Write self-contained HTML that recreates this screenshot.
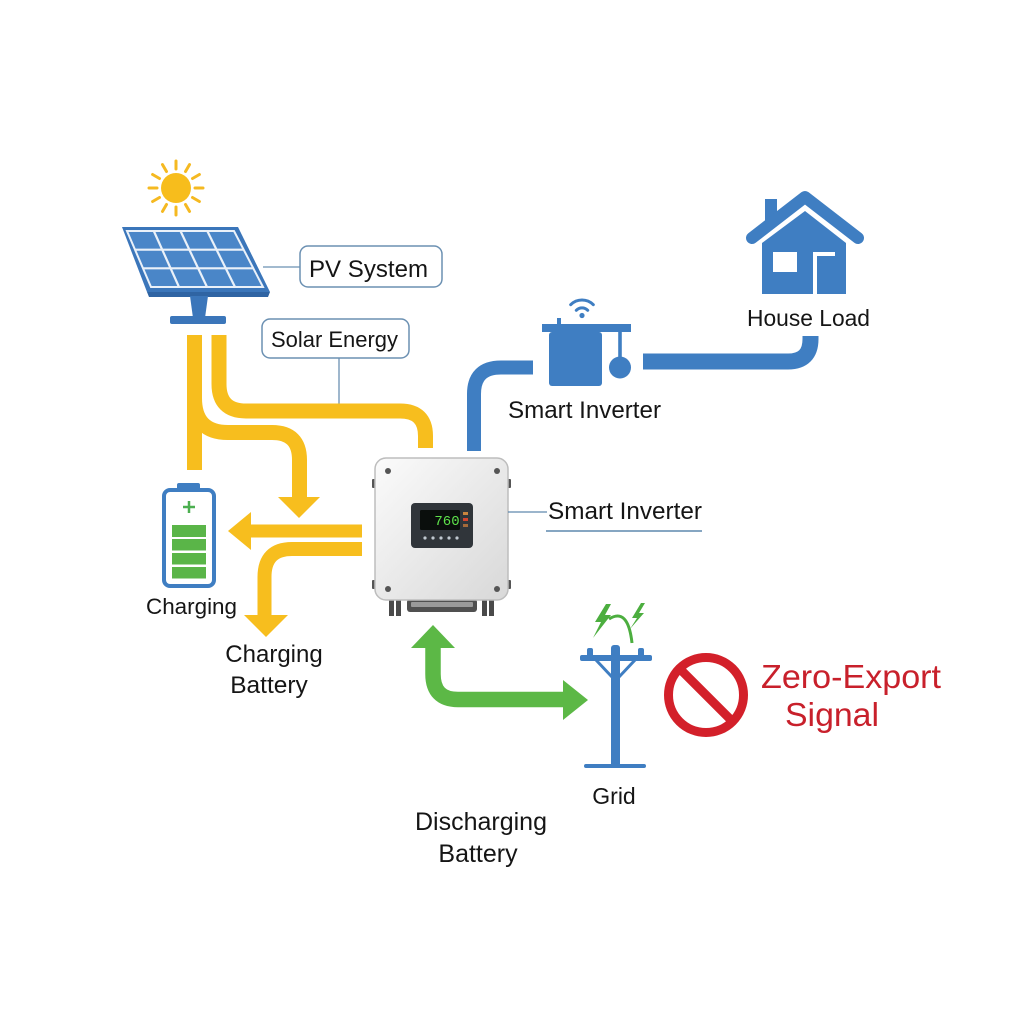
<!DOCTYPE html>
<html><head><meta charset="utf-8"><style>
html,body{margin:0;padding:0;background:#fff;}
svg{display:block;}
text{font-family:"Liberation Sans",Arial,sans-serif;fill:#151515;}
</style></head><body>
<svg width="1024" height="1024" viewBox="0 0 1024 1024" xmlns="http://www.w3.org/2000/svg">
<defs>
<linearGradient id="inv" x1="0" y1="0" x2="1" y2="1">
<stop offset="0" stop-color="#fbfbfb"/><stop offset="1" stop-color="#d8d8d8"/>
</linearGradient>
</defs>
<rect width="1024" height="1024" fill="#fff"/>

<!-- Sun -->
<g stroke="#f5b921" stroke-width="3" stroke-linecap="round">
<line x1="176" y1="169" x2="176" y2="161"/>
<line x1="185.5" y1="171.5" x2="189.5" y2="164.6"/>
<line x1="192.5" y1="178.5" x2="199.4" y2="174.5"/>
<line x1="195" y1="188" x2="203" y2="188"/>
<line x1="192.5" y1="197.5" x2="199.4" y2="201.5"/>
<line x1="185.5" y1="204.5" x2="189.5" y2="211.4"/>
<line x1="176" y1="207" x2="176" y2="215"/>
<line x1="166.5" y1="204.5" x2="162.5" y2="211.4"/>
<line x1="159.5" y1="197.5" x2="152.6" y2="201.5"/>
<line x1="157" y1="188" x2="149" y2="188"/>
<line x1="159.5" y1="178.5" x2="152.6" y2="174.5"/>
<line x1="166.5" y1="171.5" x2="162.5" y2="164.6"/>
</g>
<circle cx="176" cy="188" r="15" fill="#f7bd1c"/>

<!-- Solar panel -->
<polygon points="147,292 270,292 268,297 149,297" fill="#2f64a3"/>
<polygon points="122,227 238,227 270,292 147,292" fill="#3b76ba"/>
<polygon points="127,231 234,231 263,287 151,287" fill="#4a86c8" stroke="#eaf1f9" stroke-width="2"/>
<g stroke="#eaf1f9" stroke-width="2.2">
<line x1="153.8" y1="231" x2="179" y2="287"/>
<line x1="180.5" y1="231" x2="207" y2="287"/>
<line x1="207.3" y1="231" x2="235" y2="287"/>
<line x1="135" y1="249.7" x2="243.7" y2="249.7"/>
<line x1="143" y1="268.3" x2="253.3" y2="268.3"/>
</g>
<polygon points="190,296 208,296 205,318 193,318" fill="#3b76ba"/>
<rect x="170" y="316" width="56" height="8" rx="2" fill="#3b76ba"/>

<!-- Label boxes -->
<line x1="263" y1="267" x2="300" y2="267" stroke="#6b90b2" stroke-width="1.3"/>
<rect x="300" y="246" width="142" height="41" rx="8" fill="#fff" stroke="#6b90b2" stroke-width="1.5"/>
<text x="309" y="277" font-size="24" textLength="119" lengthAdjust="spacingAndGlyphs">PV System</text>
<line x1="339" y1="358" x2="339" y2="404" stroke="#6b90b2" stroke-width="1.3"/>
<rect x="262" y="319" width="147" height="39" rx="8" fill="#fff" stroke="#6b90b2" stroke-width="1.5"/>
<text x="271" y="347" font-size="22" textLength="127" lengthAdjust="spacingAndGlyphs">Solar Energy</text>

<!-- Yellow pipes -->
<g fill="none" stroke="#f7be1e" stroke-linejoin="round">
<path d="M194.5 335 V470" stroke-width="15"/>
<path d="M194.5 398 Q194.5 432.5 228 432.5 H272 Q299.5 432.5 299.5 460 V498" stroke-width="15"/>
<path d="M219 335 V384 Q219 411 246 411 H400 Q425.5 411 425.5 436 V448" stroke-width="15"/>
<path d="M362 531 H249" stroke-width="13"/>
<path d="M362 549 H292 Q264.5 549 264.5 577 V616" stroke-width="14"/>
</g>
<g fill="#f7be1e">
<polygon points="278,497 320,497 299,518"/>
<polygon points="251,512 251,550 228,531"/>
<polygon points="244,615 288,615 266,637"/>
</g>

<!-- Battery -->
<rect x="177" y="483" width="23" height="8" rx="2" fill="#3f7ec2"/>
<rect x="164" y="490" width="50" height="96" rx="6" fill="#fff" stroke="#3f7ec2" stroke-width="4"/>
<g stroke="#4caf50" stroke-width="2.5">
<line x1="183" y1="507" x2="195" y2="507"/>
<line x1="189" y1="501" x2="189" y2="513"/>
</g>
<g fill="#5ab548">
<rect x="172" y="525" width="34" height="12"/>
<rect x="172" y="539" width="34" height="11.5"/>
<rect x="172" y="553" width="34" height="11.5"/>
<rect x="172" y="567" width="34" height="11.5"/>
</g>
<text x="146" y="614" font-size="22.5" textLength="91" lengthAdjust="spacingAndGlyphs">Charging</text>
<text x="274" y="662" font-size="24" text-anchor="middle">Charging</text>
<text x="269" y="693" font-size="24.5" text-anchor="middle">Battery</text>

<!-- Blue pipes -->
<g fill="none" stroke="#3f7ec2">
<path d="M474 451 V394 Q474 367.5 501 367.5 H533" stroke-width="14"/>
<path d="M643 361.5 H788 Q810.5 361.5 810.5 339 V336" stroke-width="16"/>
</g>

<!-- Inverter -->
<g fill="#555">
<rect x="372" y="479" width="5" height="9" rx="1"/>
<rect x="372" y="580" width="5" height="9" rx="1"/>
<rect x="506" y="479" width="5" height="9" rx="1"/>
<rect x="506" y="580" width="5" height="9" rx="1"/>
</g>
<g fill="#4a4a4a">
<rect x="389" y="598" width="5" height="18"/>
<rect x="396" y="598" width="5" height="18"/>
<rect x="482" y="598" width="5" height="18"/>
<rect x="489" y="598" width="5" height="18"/>
</g>
<rect x="407" y="599" width="70" height="13" rx="3" fill="#505050"/>
<rect x="411" y="602" width="62" height="5" rx="1" fill="#9a9a9a"/>
<rect x="375" y="458" width="133" height="142" rx="11" fill="url(#inv)" stroke="#bdbdbd" stroke-width="1.5"/>
<g fill="#555">
<circle cx="388" cy="471" r="3"/><circle cx="497" cy="471" r="3"/>
<circle cx="388" cy="589" r="3"/><circle cx="497" cy="589" r="3"/>
</g>
<rect x="411" y="503" width="62" height="45" rx="4" fill="#30353a"/>
<rect x="420" y="510" width="40" height="20" rx="1.5" fill="#0a0e0c"/>
<text x="447" y="525" font-size="14" text-anchor="middle" style="font-family:'Liberation Mono',monospace;fill:#5ee24b">760</text>
<rect x="463" y="512" width="5" height="3" fill="#c9853f"/>
<rect x="463" y="518" width="5" height="3" fill="#d2452f"/>
<rect x="463" y="524" width="5" height="3" fill="#a46b3b"/>
<g fill="#c0c8d0">
<circle cx="425" cy="538" r="1.6"/><circle cx="433" cy="538" r="1.6"/><circle cx="441" cy="538" r="1.6"/><circle cx="449" cy="538" r="1.6"/><circle cx="457" cy="538" r="1.6"/>
</g>
<line x1="508" y1="512" x2="547" y2="512" stroke="#5f89ad" stroke-width="1.3"/>
<line x1="546" y1="531" x2="702" y2="531" stroke="#5f89ad" stroke-width="1.5"/>
<text x="548" y="519" font-size="24.5" textLength="154" lengthAdjust="spacingAndGlyphs">Smart Inverter</text>

<!-- Small smart inverter device -->
<g fill="#3f7ec2">
<rect x="557" y="318" width="4" height="7"/>
<rect x="542" y="324" width="89" height="8"/>
<rect x="549" y="332" width="53" height="54" rx="3"/>
<rect x="618.2" y="331" width="3.6" height="30"/>
<circle cx="620" cy="367.5" r="11"/>
<circle cx="582" cy="315.5" r="2.6"/>
</g>
<g fill="none" stroke="#3f7ec2" stroke-width="3" stroke-linecap="round">
<path d="M576.3 310.3 A8 8 0 0 1 587.7 310.3"/>
<path d="M570.7 304.7 A16 16 0 0 1 593.3 304.7"/>
</g>
<text x="508" y="418" font-size="24" textLength="153" lengthAdjust="spacingAndGlyphs">Smart Inverter</text>

<!-- House -->
<rect x="765" y="199" width="12" height="24" fill="#3f7ec2"/>
<polyline points="752,238 805,197 858,238" fill="none" stroke="#3f7ec2" stroke-width="12" stroke-linecap="round" stroke-linejoin="round"/>
<polygon points="762,243 805,211 846,243 846,294 762,294" fill="#3f7ec2"/>
<rect x="773" y="252" width="24" height="20" fill="#fff"/>
<rect x="813" y="252" width="22" height="42" fill="#fff"/>
<rect x="817" y="256" width="18" height="38" fill="#3f7ec2"/>
<text x="747" y="326" font-size="23" textLength="123" lengthAdjust="spacingAndGlyphs">House Load</text>

<!-- Green arrow -->
<path d="M433 647 V674 Q433 699.5 458 699.5 H565" fill="none" stroke="#5cb846" stroke-width="15.5"/>
<polygon points="411,648 455,648 433,625" fill="#5cb846"/>
<polygon points="563,680 563,720 588,700" fill="#5cb846"/>

<!-- Grid pole -->
<g fill="#3f7ec2">
<rect x="611" y="645" width="9" height="122" rx="3"/>
<rect x="580" y="655" width="72" height="6" rx="2"/>
<rect x="587" y="648" width="6" height="9" rx="2"/>
<rect x="638" y="648" width="6" height="9" rx="2"/>
<rect x="584" y="764" width="62" height="4" rx="2"/>
</g>
<g stroke="#3f7ec2" stroke-width="3">
<line x1="596" y1="660" x2="612" y2="677"/>
<line x1="635" y1="660" x2="619" y2="677"/>
</g>
<g fill="#4cae3f">
<polygon points="606,604 595,622 601,622 593,638 611,615 605,615 611,604"/>
<polygon points="641,603 632,618 637,618 630,629 644,613 639,613 645,603"/>
</g>
<path d="M609 619 Q628 607 632 643" fill="none" stroke="#4cae3f" stroke-width="3"/>
<text x="614" y="804" font-size="23" text-anchor="middle">Grid</text>

<!-- No sign -->
<circle cx="706" cy="695" r="37.5" fill="none" stroke="#d3202a" stroke-width="9"/>
<line x1="680" y1="669" x2="732" y2="721" stroke="#d3202a" stroke-width="9"/>
<text x="761" y="688" font-size="33" textLength="180" lengthAdjust="spacingAndGlyphs" style="fill:#c8202b">Zero-Export</text>
<text x="785" y="726" font-size="33" textLength="94" lengthAdjust="spacingAndGlyphs" style="fill:#c8202b">Signal</text>

<text x="481" y="830" font-size="25" text-anchor="middle">Discharging</text>
<text x="478" y="862" font-size="25" text-anchor="middle">Battery</text>
</svg>
</body></html>
